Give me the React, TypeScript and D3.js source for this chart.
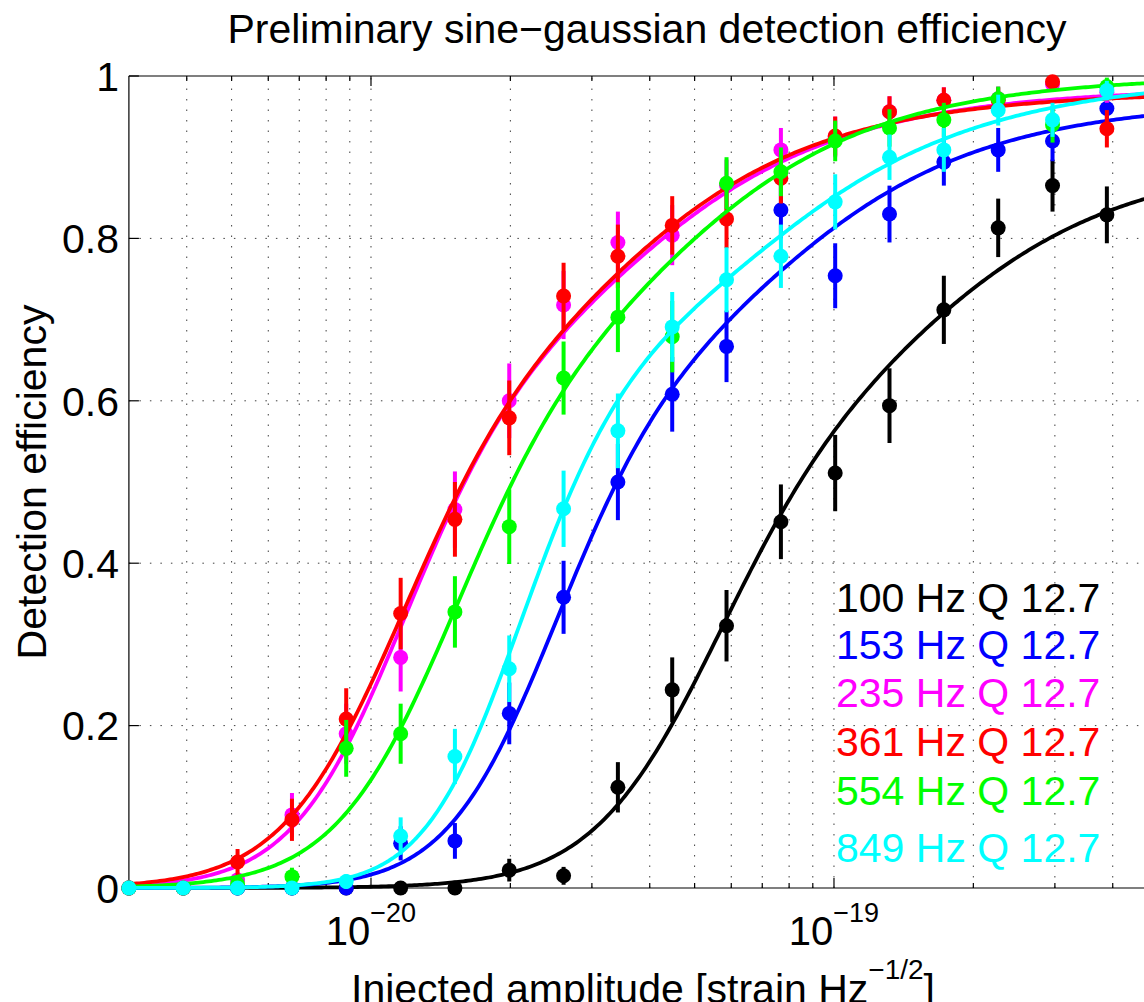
import React from 'react';
import * as d3 from 'd3';

// Injected amplitudes [strain Hz^-1/2]
const amplitudes = [
  3.0e-21, 3.93e-21, 5.15e-21, 6.75e-21, 8.84e-21, 1.159e-20, 1.518e-20, 1.989e-20, 2.606e-20, 3.414e-20,
  4.473e-20, 5.86e-20, 7.68e-20, 1.006e-19, 1.318e-19, 1.727e-19, 2.263e-19, 2.965e-19, 3.885e-19,
];

const eff100 = [0, 0, 0, 0, 0, 0, 0, 0.022, 0.015, 0.124, 0.244, 0.323, 0.451, 0.511, 0.594, 0.712, 0.813, 0.865, 0.829];
const err100 = [0, 0, 0, 0, 0, 0, 0, 0.014, 0.011, 0.031, 0.04, 0.044, 0.046, 0.047, 0.046, 0.042, 0.036, 0.032, 0.035];

const eff153 = [0, 0, 0, 0, 0, 0.055, 0.058, 0.215, 0.358, 0.5, 0.608, 0.667, 0.835, 0.754, 0.83, 0.894, 0.909, 0.92, 0.96];
const err153 = [0, 0, 0, 0, 0, 0.021, 0.022, 0.038, 0.045, 0.047, 0.046, 0.044, 0.035, 0.04, 0.035, 0.029, 0.027, 0.025, 0.018];

const eff235 = [0, 0, 0.01, 0.09, 0.19, 0.284, 0.466, 0.6, 0.718, 0.795, 0.804, 0.865, 0.909, 0.925, 0.956, 0.97, 0.972, 0.99, 0.98];
const err235 = [0, 0, 0.009, 0.027, 0.037, 0.042, 0.047, 0.046, 0.042, 0.038, 0.037, 0.032, 0.027, 0.025, 0.019, 0.016, 0.015, 0.009, 0.013];

const eff361 = [0, 0, 0.032, 0.084, 0.208, 0.338, 0.454, 0.579, 0.729, 0.778, 0.816, 0.824, 0.874, 0.926, 0.956, 0.97, 0.97, 0.993, 0.935];
const err361 = [0, 0, 0.016, 0.026, 0.038, 0.044, 0.046, 0.046, 0.041, 0.039, 0.036, 0.036, 0.031, 0.024, 0.019, 0.016, 0.016, 0.008, 0.023];

const eff554 = [0, 0, 0.005, 0.014, 0.172, 0.19, 0.34, 0.445, 0.628, 0.703, 0.679, 0.868, 0.882, 0.92, 0.936, 0.946, 0.972, 0.94, 0.987];
const err554 = [0, 0, 0.007, 0.011, 0.035, 0.037, 0.044, 0.046, 0.045, 0.043, 0.044, 0.032, 0.03, 0.025, 0.023, 0.021, 0.015, 0.022, 0.011];

const eff849 = [0, 0, 0, 0, 0.008, 0.064, 0.162, 0.27, 0.467, 0.563, 0.691, 0.749, 0.778, 0.845, 0.9, 0.909, 0.958, 0.946, 0.982];
const err849 = [0, 0, 0, 0, 0.009, 0.023, 0.034, 0.041, 0.047, 0.046, 0.043, 0.04, 0.039, 0.034, 0.028, 0.027, 0.019, 0.021, 0.012];

const seriesLabels = ['100 Hz Q 12.7', '153 Hz Q 12.7', '235 Hz Q 12.7', '361 Hz Q 12.7', '554 Hz Q 12.7', '849 Hz Q 12.7'];
const seriesColors = ['#000000', '#0000ff', '#ff00ff', '#ff0000', '#00ff00', '#00ffff'];
const seriesEff = [eff100, eff153, eff235, eff361, eff554, eff849];
const seriesErr = [err100, err153, err235, err361, err554, err849];

// Sigmoid fit parameters: eff = max / (1 + (h/h50)^(-alpha(1+beta*tanh(h/h50))))
const fitH50 = [7.5e-20, 3.3e-20, 1.57e-20, 1.55e-20, 2.02e-20, 2.76e-20];
const fitAlpha = [3.4, 4.2, 4.0, 3.65, 3.65, 5.0];
const fitBeta = [-0.55, -0.65, -0.64, -0.59, -0.59, -0.73];
const fitMax = [0.9, 0.97, 0.985, 0.98, 1.0, 1.0];

const yTicks = [0, 0.2, 0.4, 0.6, 0.8, 1];
const yTickLabels = ['0', '0.2', '0.4', '0.6', '0.8', '1'];
const xMajorTicks = [1e-20, 1e-19];
const xMajorExponents = ['\u221220', '\u221219'];
const xDomain = [3e-21, 5e-19];

const FONT = '"Liberation Sans", Arial, Helvetica, sans-serif';

export default function App() {
  const W = 1144;
  const H = 1002;
  const left = 128.9;
  const right = 1157.6;
  const top = 76;
  const bottom = 888;

  const x = d3.scaleLog().domain(xDomain).range([left, right]);
  const y = d3.scaleLinear().domain([0, 1]).range([bottom, top]);

  const minorTicks = x.ticks().filter((v) => v > xDomain[0] * 1.0001 && v < xDomain[1] * 0.9999);
  const isMajor = (v: number) => xMajorTicks.some((m) => Math.abs(v / m - 1) < 1e-6);

  const fitCurve = (i: number) => {
    const n = 400;
    const l0 = Math.log10(xDomain[0]);
    const l1 = Math.log10(xDomain[1]);
    const pts: [number, number][] = [];
    for (let k = 0; k <= n; k++) {
      const h = Math.pow(10, l0 + ((l1 - l0) * k) / n);
      const r = h / fitH50[i];
      const e = fitAlpha[i] * (1 + fitBeta[i] * Math.tanh(r));
      pts.push([h, fitMax[i] / (1 + Math.pow(r, -e))]);
    }
    return d3.line<[number, number]>().x((d) => x(d[0])).y((d) => y(d[1]))(pts) || '';
  };

  const legendBaselines = [612, 659, 707, 756, 805, 862];

  return (
    <svg width={W} height={H} style={{ position: 'absolute', left: 0, top: 0, background: '#fff' }} fontFamily={FONT}>
      <rect x={0} y={0} width={W} height={H} fill="#fff" />
      {/* grid */}
      <g stroke="#000" strokeWidth={1} strokeDasharray="1.5 9" opacity={0.75}>
        {minorTicks.map((v, i) => (
          <line key={'gx' + i} x1={x(v)} x2={x(v)} y1={bottom} y2={top} />
        ))}
        {yTicks.filter((v) => v > 0 && v < 1).map((v, i) => (
          <line key={'gy' + i} x1={left} x2={right} y1={y(v)} y2={y(v)} />
        ))}
      </g>
      {/* axes frame */}
      <g stroke="#000" strokeWidth={1.2} fill="none">
        <line x1={left} x2={right} y1={bottom} y2={bottom} />
        <line x1={left} x2={right} y1={top} y2={top} />
        <line x1={left} x2={left} y1={top} y2={bottom} />
        <line x1={right} x2={right} y1={top} y2={bottom} />
        {minorTicks.map((v, i) => {
          const len = isMajor(v) ? 10 : 5;
          return (
            <g key={'tk' + i}>
              <line x1={x(v)} x2={x(v)} y1={bottom} y2={bottom - len} />
              <line x1={x(v)} x2={x(v)} y1={top} y2={top + len} />
            </g>
          );
        })}
        {yTicks.map((v, i) => (
          <g key={'yt' + i}>
            <line x1={left} x2={left + 10} y1={y(v)} y2={y(v)} />
            <line x1={right} x2={right - 10} y1={y(v)} y2={y(v)} />
          </g>
        ))}
      </g>
      {/* data series */}
      {seriesEff.map((vals, s) => (
        <g key={'s' + s}>
          <g stroke={seriesColors[s]} strokeWidth={4}>
            {vals.map((v, k) =>
              seriesErr[s][k] > 0 ? (
                <line
                  key={'e' + k}
                  x1={x(amplitudes[k])}
                  x2={x(amplitudes[k])}
                  y1={y(v - seriesErr[s][k])}
                  y2={y(v + seriesErr[s][k])}
                />
              ) : null
            )}
          </g>
          <g fill={seriesColors[s]}>
            {vals.map((v, k) => (
              <circle key={'c' + k} cx={x(amplitudes[k])} cy={y(v)} r={7.5} />
            ))}
          </g>
          <path d={fitCurve(s)} fill="none" stroke={seriesColors[s]} strokeWidth={3.8} strokeLinejoin="round" />
        </g>
      ))}
      {/* y tick labels */}
      <g fontSize={41} textAnchor="end" fill="#000">
        {yTicks.map((v, i) => (
          <text key={'yl' + i} x={119} y={y(v)} dy="0.36em">
            {yTickLabels[i]}
          </text>
        ))}
      </g>
      {/* x tick labels */}
      <g fontSize={40} textAnchor="middle" fill="#000">
        {xMajorTicks.map((v, i) => (
          <text key={'xl' + i} x={x(v)} y={945}>
            10
            <tspan dy={-23} fontSize={27}>
              {xMajorExponents[i]}
            </tspan>
          </text>
        ))}
      </g>
      {/* legend texts */}
      <g fontSize={41}>
        {seriesLabels.map((t, i) => (
          <text key={'lg' + i} x={836} y={legendBaselines[i]} fill={seriesColors[i]}>
            {t}
          </text>
        ))}
      </g>
      {/* title */}
      <text x={647} y={43} fontSize={41} textAnchor="middle" fill="#000">
        Preliminary sine{'\u2212'}gaussian detection efficiency
      </text>
      {/* axis labels */}
      <text x={643} y={1003} fontSize={41} textAnchor="middle" fill="#000">
        Injected amplitude [strain Hz
        <tspan dy={-24} fontSize={28}>
          {'\u22121/2'}
        </tspan>
        <tspan dy={24}>]</tspan>
      </text>
      <text transform="translate(46,482) rotate(-90)" fontSize={41} textAnchor="middle" fill="#000">
        Detection efficiency
      </text>
    </svg>
  );
}
